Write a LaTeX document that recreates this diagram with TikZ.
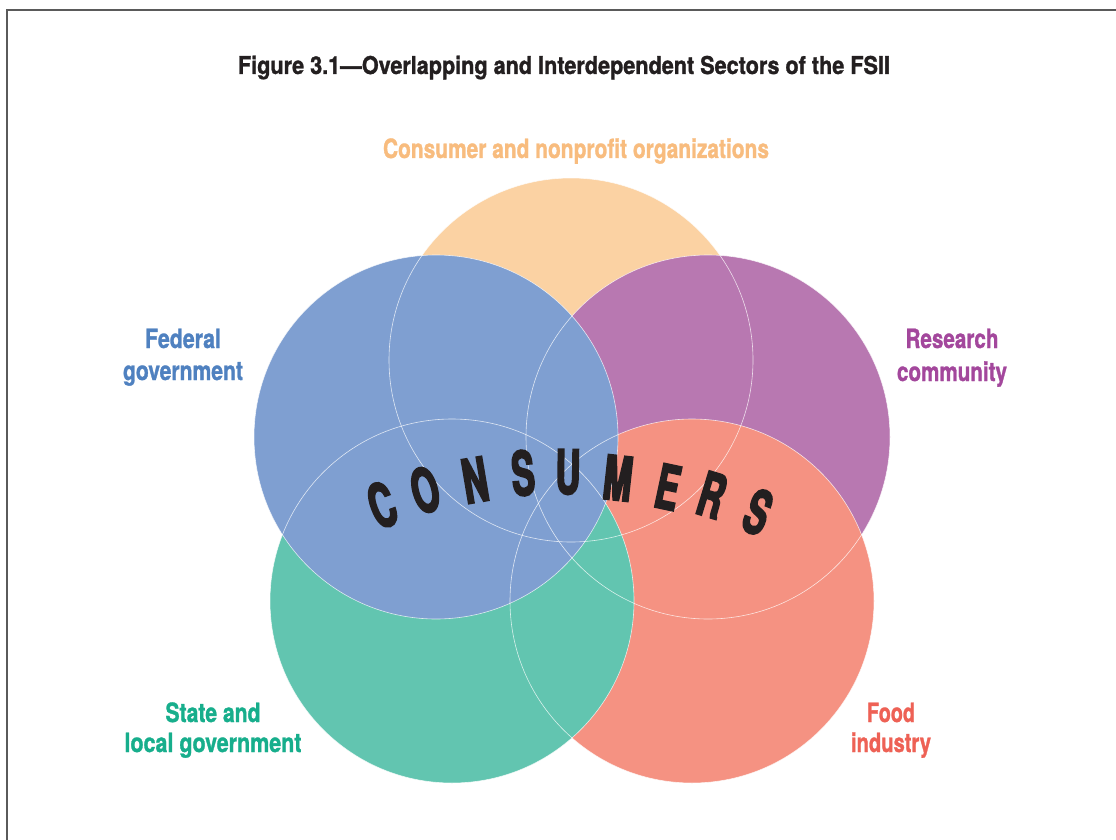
\documentclass[tikz,border=0pt]{standalone}
\usepackage{fontspec}
\usepackage{graphicx}
\setmainfont{TeX Gyre Heros}
\newfontfamily\consf{TeX Gyre Heros}[FakeStretch=0.56, FakeBold=3]
\newfontfamily\lblf{TeX Gyre Heros}[FakeBold=1.3, Ligatures=TeX]
\definecolor{cOrange}{HTML}{FBD2A3}
\definecolor{cBlue}{HTML}{7F9FD1}
\definecolor{cPurple}{HTML}{B878B1}
\definecolor{cGreen}{HTML}{62C5B0}
\definecolor{cSalmon}{HTML}{F59282}
\definecolor{tOrange}{HTML}{F8BC7E}
\definecolor{tBlue}{HTML}{4F81C0}
\definecolor{tPurple}{HTML}{A3479C}
\definecolor{tGreen}{HTML}{17AE8C}
\definecolor{tSalmon}{HTML}{EE6155}
\definecolor{tDark}{HTML}{231F20}
\definecolor{frameGray}{HTML}{5A5A5A}
\newcommand{\fitw}[2]{\resizebox{#1pt}{\height}{#2}}
\tikzset{
  sector/.style={circle, minimum size=364pt, inner sep=0pt},
  rim/.style={draw=white, draw opacity=0.75, line width=0.6pt},
  lbl/.style={anchor=base, inner sep=0pt, font=\lblf\fontsize{26.5}{26.5}\selectfont\bfseries},
  ttl/.style={anchor=base, inner sep=0pt, font=\lblf\fontsize{24.5}{24.5}\selectfont\bfseries, text=tDark},
  ltr/.style={inner sep=0pt, anchor=center, text=tDark, font=\consf\fontsize{61}{61}\selectfont\bfseries}
}
\begin{document}
\begin{tikzpicture}[x=1pt,y=-1pt]
\useasboundingbox (0,0) rectangle (1116,840);
\fill[white] (0,0) rectangle (1116,840);
\draw[frameGray, line width=2pt] (7,841) -- (7,10) -- (1117,10);
% title
\node[ttl] (title) at (564,74) {\fitw{652}{Figure 3.1—Overlapping and Interdependent Sectors of the FSII}};
% circles, back to front
\node[sector, fill=cOrange] (org) at (571,360) {};
\node[sector, fill=cPurple] (res) at (708,437) {};
\node[sector, fill=cSalmon] (food) at (692,601) {};
\node[sector, fill=cGreen] (state) at (452,601) {};
\node[sector, fill=cBlue] (fed) at (436,437) {};
% faint outlines
\foreach \c in {org,res,food,state,fed}{
  \draw[rim] (\c) circle[radius=182pt];
}
% labels
\node[lbl, text=tOrange] (lorg) at (576,158) {\fitw{386}{Consumer and nonprofit organizations}};
\node[lbl, text=tBlue] (lfed1) at (183,348) {\fitw{76}{Federal}};
\node[lbl, text=tBlue] (lfed2) at (183,380) {\fitw{120}{government}};
\node[lbl, text=tPurple] (lres1) at (952,348) {\fitw{93}{Research}};
\node[lbl, text=tPurple] (lres2) at (952,381) {\fitw{110}{community}};
\node[lbl, text=tGreen] (lst1) at (213,722) {\fitw{95}{State and}};
\node[lbl, text=tGreen] (lst2) at (213,752) {\fitw{177}{local government}};
\node[lbl, text=tSalmon] (lfd1) at (891,722) {\fitw{48}{Food}};
\node[lbl, text=tSalmon] (lfd2) at (891,752) {\fitw{80}{industry}};
% CONSUMERS on an arc
\node[ltr, rotate=20.3] (k1) at (382,505) {C};
\node[ltr, rotate=15.3] (k2) at (425,490) {O};
\node[ltr, rotate=9.6] (k3) at (475,480) {N};
\node[ltr, rotate=4.2] (k4) at (523,473) {S};
\node[ltr, rotate=-0.8] (k5) at (568,472) {U};
\node[ltr, rotate=-6.3] (k6) at (618,478) {M};
\node[ltr, rotate=-12] (k7) at (668,487) {E};
\node[ltr, rotate=-17] (k8) at (712,495) {R};
\node[ltr, rotate=-22.4] (k9) at (758,512) {S};
\end{tikzpicture}
\end{document}
